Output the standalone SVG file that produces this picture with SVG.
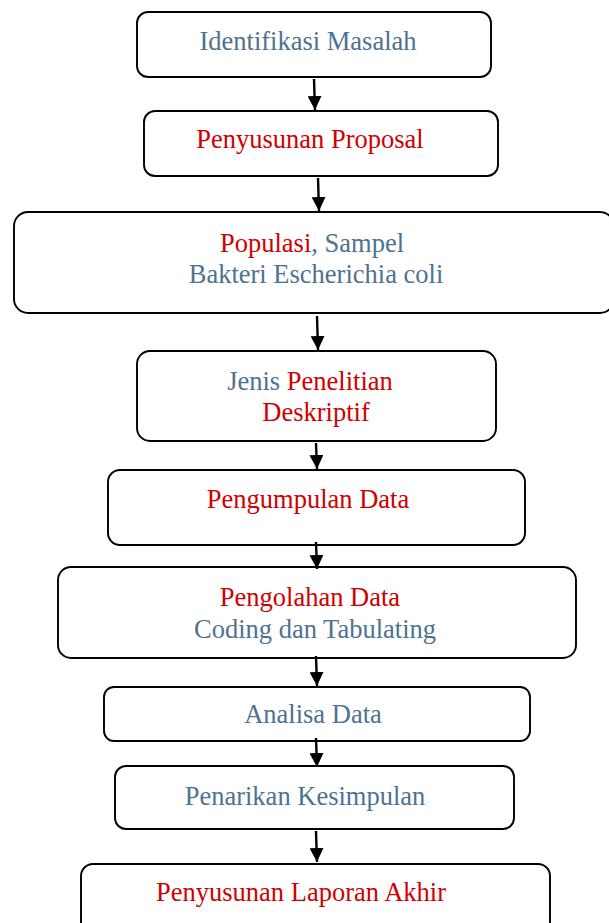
<svg xmlns="http://www.w3.org/2000/svg" width="609" height="923" viewBox="0 0 609 923">
<style>
.box{fill:#fff;stroke:#000;stroke-width:1.9}
.t{font-family:"Liberation Serif","Times New Roman",serif;font-size:26.5px;text-anchor:middle}
.b{fill:#4E7291}
.r{fill:#D00000}
.c{stroke:#000;stroke-width:2.4;fill:none;marker-end:url(#ah)}
</style>
<defs>
<marker id="ah" viewBox="0 0 14 14" refX="14" refY="7" markerWidth="14" markerHeight="14" markerUnits="userSpaceOnUse" orient="auto">
<path d="M0,0 L14,7 L0,14 Z" fill="#000"/>
</marker>
</defs>
<rect width="609" height="923" fill="#fff"/>
<g id="n1"><rect class="box" x="137" y="12" width="354" height="65" rx="11"/><text class="t b" x="308" y="50">Identifikasi Masalah</text></g>
<g id="n2"><rect class="box" x="144" y="111" width="354" height="65" rx="11"/><text class="t r" x="310" y="148">Penyusunan Proposal</text></g>
<g id="n3"><rect class="box" x="14" y="212" width="600" height="101" rx="14"/><text class="t" x="312" y="252"><tspan class="r">Populasi</tspan><tspan class="b">, Sampel</tspan></text><text class="t b" x="316" y="283">Bakteri Escherichia coli</text></g>
<g id="n4"><rect class="box" x="137" y="351" width="359" height="90" rx="13"/><text class="t" x="310" y="390"><tspan class="b">Jenis </tspan><tspan class="r">Penelitian</tspan></text><text class="t r" x="316" y="421">Deskriptif</text></g>
<g id="n5"><rect class="box" x="108" y="470" width="417" height="75" rx="12"/><text class="t r" x="308" y="508">Pengumpulan Data</text></g>
<g id="n6"><rect class="box" x="58" y="567" width="518" height="91" rx="13"/><text class="t r" x="310" y="606">Pengolahan Data</text><text class="t b" x="315" y="638">Coding dan Tabulating</text></g>
<g id="n7"><rect class="box" x="104" y="687" width="426" height="54" rx="10"/><text class="t b" x="313" y="723">Analisa Data</text></g>
<g id="n8"><rect class="box" x="115" y="766" width="399" height="63" rx="11"/><text class="t b" x="305" y="805">Penarikan Kesimpulan</text></g>
<g id="n9"><rect class="box" x="81" y="864" width="469" height="80" rx="12"/><text class="t r" x="301" y="901">Penyusunan Laporan Akhir</text></g>
<g id="connectors">
<line class="c" x1="314" y1="79" x2="315" y2="110"/>
<line class="c" x1="318" y1="178" x2="319" y2="211"/>
<line class="c" x1="317" y1="316" x2="318" y2="350"/>
<line class="c" x1="316" y1="443" x2="317" y2="469"/>
<line class="c" x1="316" y1="542" x2="317" y2="569"/>
<line class="c" x1="316" y1="656" x2="317" y2="686"/>
<line class="c" x1="316" y1="738" x2="317" y2="767"/>
<line class="c" x1="316" y1="831" x2="317" y2="862"/>
</g>
</svg>
